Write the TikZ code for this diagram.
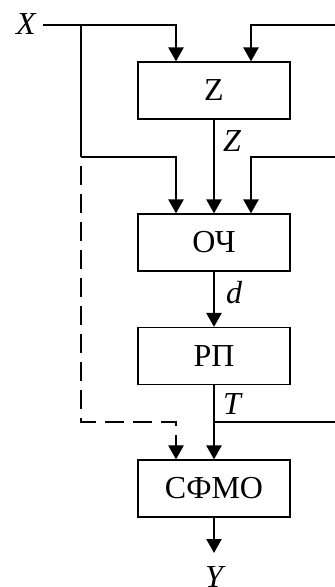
\documentclass[tikz,border=0pt]{standalone}
\usepackage{fontspec}
\setmainfont{Liberation Serif}
\usetikzlibrary{arrows.meta,calc}
\begin{document}
\begin{tikzpicture}[x=0.5pt,y=-0.5pt,
  box/.style={draw,line width=0.6pt,minimum width=76pt,minimum height=28.5pt,inner sep=0pt,font=\fontsize{16}{18}\selectfont},
  conn/.style={line width=1.2pt,-{Triangle[length=7pt,width=7.5pt]}},
  wire/.style={line width=1.2pt},
  dconn/.style={conn,dash pattern=on 9.5pt off 4.5pt,dash phase=9.5pt},
  lbl/.style={font=\fontsize{16}{18}\selectfont\itshape,inner sep=0pt}]
\useasboundingbox (0,0) rectangle (335,587);
% blocks
\node[box] (Z) at (214,90.5) {Z};
\node[box] (OCH) at (214,242.5) {ОЧ};
\node[box] (RP) at (214,356) {РП};
\node[box] (SFMO) at (214,488.5) {СФМО};
% labels
\node[lbl] (Xl) at (26,24) {X};
\node[lbl] (Zl) at (232,141) {Z};
\node[lbl] (dl) at (234,293) {d};
\node[lbl] (Tl) at (232,404) {T};
\node[lbl] (Yl) at (214,577) {Y};
% coordinates
\coordinate (xs) at (43,25);
\coordinate (xj1) at (81,25);
\coordinate (xj2) at (81,157);
\coordinate (cl) at (176,0);
\coordinate (cr) at (251,0);
\coordinate (r1) at (335,25);
\coordinate (r2) at (335,157);
\coordinate (tj) at (214,422);
\coordinate (r3) at (335,422);
\coordinate (dc) at (81,422);
\coordinate (yend) at (214,553);
% connectors
\draw[conn] (xs) -| (Z.north -| cl);
\draw[conn] (r1) -| (Z.north -| cr);
\draw[wire] (xj1) -- (xj2);
\draw[conn] (xj2) -| (OCH.north -| cl);
\draw[conn] (Z.south) -- (OCH.north);
\draw[conn] (r2) -| (OCH.north -| cr);
\draw[conn] (OCH.south) -- (RP.north);
\draw[conn] (RP.south) -- (SFMO.north);
\draw[wire] (tj) -- (r3);
\draw[dconn] (xj2) -- (dc) -| (SFMO.north -| cl);
\draw[conn] (SFMO.south) -- (yend);
\end{tikzpicture}
\end{document}
